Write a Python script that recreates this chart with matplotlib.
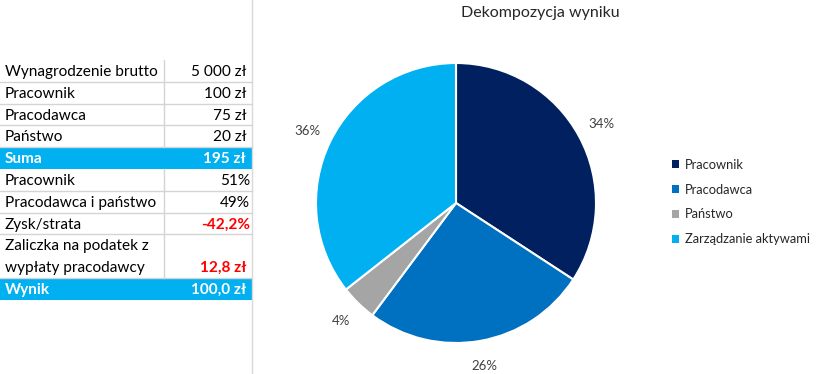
import matplotlib
matplotlib.use("Agg")
import numpy as np
from matplotlib import pyplot as plt
from matplotlib.patches import Patch, Rectangle

plt.rcParams['font.family'] = ['Lato', 'DejaVu Sans']

# tabela po lewej
row_labels = ["Wynagrodzenie brutto", "Pracownik", "Pracodawca", "Państwo", "Suma",
              "Pracownik", "Pracodawca i państwo", "Zysk/strata",
              "Zaliczka na podatek z\nwypłaty pracodawcy", "Wynik"]
row_values = ["5 000 zł", "100 zł", "75 zł", "20 zł", "195 zł",
              "51%", "49%", "-42,2%", "12,8 zł", "100,0 zł"]
row_kind = ["n", "n", "n", "n", "sum", "n", "n", "red", "red", "sum"]
row_lines = [1, 1, 1, 1, 1, 1, 1, 1, 2, 1]

# wykres kołowy
pie_labels = ["Pracownik", "Pracodawca", "Państwo", "Zarządzanie aktywami"]
pie_values = [34.2, 26.0, 4.2, 35.6]
pie_colors = ["#002060", "#0070C0", "#A5A5A5", "#00B0F0"]

W, H = 822, 374
fig = plt.figure(figsize=(W / 100, H / 100), dpi=100)

# warstwa w pikselach na tabelę i linię
ax_t = fig.add_axes([0, 0, 1, 1])
ax_t.set_xlim(0, W)
ax_t.set_ylim(H, 0)
ax_t.axis("off")

grid = "#D4D4D4"
ax_t.plot([252, 252], [0, H], color="#D9D9D9", lw=1)

row_h = 21.8
y = 60
fs = 11.1
for lab, val, kind, n in zip(row_labels, row_values, row_kind, row_lines):
    h = row_h * n
    color = "black"
    weight = "normal"
    if kind == "sum":
        ax_t.add_patch(Rectangle((0, y), 252, h, color="#00B0F0", lw=0))
        color = "white"
        weight = "bold"
    else:
        ax_t.plot([164, 164], [y, y + h], color=grid, lw=1)
        ax_t.plot([0, 252], [y + h, y + h], color=grid, lw=1)
    lab_lines = lab.split("\n")
    for i, ll in enumerate(lab_lines):
        ax_t.text(5, y + row_h * (i + 0.5) + 1, ll, fontsize=fs, color=color,
                  fontweight=weight, va="center", ha="left")
    vcol = "red" if kind == "red" else color
    vw = "bold" if kind in ("red", "sum") else "normal"
    xr = 250 if val.endswith("%") else 246
    ax_t.text(xr, y + h - row_h / 2 + 1, val, fontsize=fs, color=vcol,
              fontweight=vw, va="center", ha="right")
    y += h

# pie
ax_p = fig.add_axes([316 / W, 1 - 343 / H, 280 / W, 280 / H])
wedges = ax_p.pie(pie_values, colors=pie_colors, startangle=90, counterclock=False,
                  wedgeprops=dict(edgecolor="white", linewidth=1.5))[0]
for w, v in zip(wedges, pie_values):
    ang = np.deg2rad((w.theta1 + w.theta2) / 2)
    ax_p.text(1.18 * np.cos(ang), 1.18 * np.sin(ang), "%d%%" % round(v),
              ha="center", va="center", fontsize=9.5, color="#404040")
ax_p.set_xlim(-1, 1)
ax_p.set_ylim(-1, 1)
ax_p.set_aspect("auto")

fig.text(540 / W, 1 - 13 / H, "Dekompozycja wyniku", ha="center", va="center",
         fontsize=11.5, color="#262626")

handles = [Patch(facecolor=c, edgecolor="none") for c in pie_colors]
fig.legend(handles, pie_labels, loc="upper left", bbox_to_anchor=(660 / W, 1 - 147 / H),
           frameon=False, fontsize=9.3, handlelength=0.6, handleheight=0.6,
           handletextpad=0.4, labelspacing=1.0, labelcolor="#262626")

fig.savefig("out.png", dpi=100)
